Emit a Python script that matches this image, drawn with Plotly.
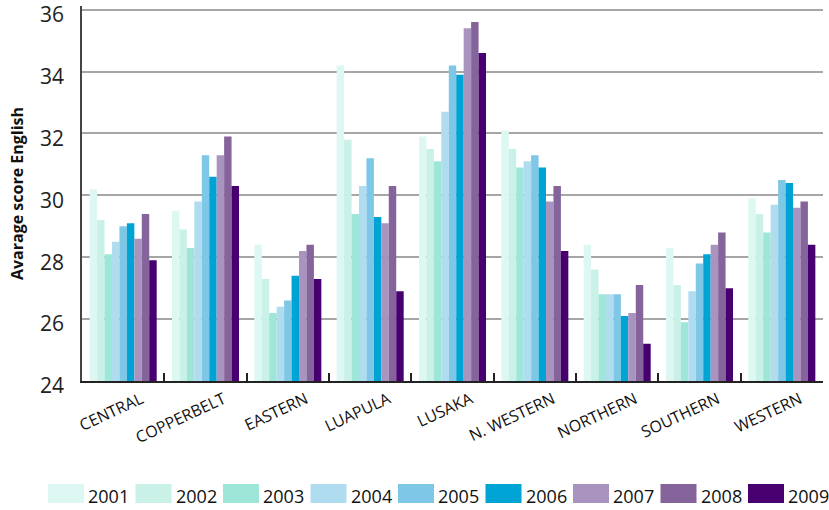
import plotly.graph_objects as go

# Regions (x categories)
regions = ["CENTRAL", "COPPERBELT", "EASTERN", "LUAPULA", "LUSAKA",
           "N. WESTERN", "NORTHERN", "SOUTHERN", "WESTERN"]

# Average English score per region, one list per year
y2001 = [30.2, 29.5, 28.4, 34.2, 31.9, 32.1, 28.4, 28.3, 29.9]
y2002 = [29.2, 28.9, 27.3, 31.8, 31.5, 31.5, 27.6, 27.1, 29.4]
y2003 = [28.1, 28.3, 26.2, 29.4, 31.1, 30.9, 26.8, 25.9, 28.8]
y2004 = [28.5, 29.8, 26.4, 30.3, 32.7, 31.1, 26.8, 26.9, 29.7]
y2005 = [29.0, 31.3, 26.6, 31.2, 34.2, 31.3, 26.8, 27.8, 30.5]
y2006 = [29.1, 30.6, 27.4, 29.3, 33.9, 30.9, 26.1, 28.1, 30.4]
y2007 = [28.6, 31.3, 28.2, 29.1, 35.4, 29.8, 26.2, 28.4, 29.6]
y2008 = [29.4, 31.9, 28.4, 30.3, 35.6, 30.3, 27.1, 28.8, 29.8]
y2009 = [27.9, 30.3, 27.3, 26.9, 34.6, 28.2, 25.2, 27.0, 28.4]

years = ["2001", "2002", "2003", "2004", "2005", "2006", "2007", "2008", "2009"]
series = [y2001, y2002, y2003, y2004, y2005, y2006, y2007, y2008, y2009]
colors = ["#ddf7f2", "#c9f1e8", "#9ee6d8", "#b0dcf0", "#7fc7e6",
          "#00a4d4", "#a994c0", "#85639b", "#480070"]

# y-axis ticks
y_ticks = [24, 26, 28, 30, 32, 34, 36]
y_top = 36.12

fig = go.Figure()
for name, vals, col in zip(years, series, colors):
    fig.add_trace(go.Bar(name=name, x=regions, y=vals, marker_color=col,
                         marker_line_width=0, showlegend=False))

# Geometry of the plotting area (pixels)
W, H = 829, 510
L, R, T, B = 82, 6, 6, 129
pw, ph = W - L - R, H - T - B

def px_x(p):
    return (p - L) / pw

def px_y(p):
    return (H - B - p) / ph

# Legend row: coloured swatches followed by year labels
shapes = []
annotations = []
for i, (name, col) in enumerate(zip(years, colors)):
    x0 = 48 + i * 87.5
    shapes.append(dict(type="rect", xref="paper", yref="paper",
                       x0=px_x(x0), x1=px_x(x0 + 36),
                       y0=px_y(503), y1=px_y(484),
                       fillcolor=col, line_width=0))
    annotations.append(dict(text=name, xref="paper", yref="paper",
                            x=px_x(x0 + 38), y=px_y(496),
                            xanchor="left", yanchor="middle", showarrow=False,
                            font=dict(family="Open Sans", size=18, color="#111")))

fig.update_layout(
    width=W, height=H,
    margin=dict(l=L, r=R, t=T, b=B, pad=0, autoexpand=False),
    paper_bgcolor="white", plot_bgcolor="white",
    barmode="group", bargap=0.186, bargroupgap=0,
    shapes=shapes, annotations=annotations,
    showlegend=False,
)

fig.update_yaxes(
    automargin=False,
    range=[24, y_top], tickvals=y_ticks, ticktext=[str(v) for v in y_ticks],
    showgrid=True, gridcolor="#a6a6a6", gridwidth=2,
    showline=True, linecolor="#444", linewidth=1.5,
    ticks="", ticklabelstandoff=12, ticklabelshift=5,
    ticklabeloverflow="allow",
    tickfont=dict(family="Open Sans", size=21, color="#222"),
    title=dict(text="<b>Avarage score English</b>", standoff=12,
               font=dict(family="Open Sans", size=16, color="#111")),
    zeroline=False,
)

fig.update_xaxes(
    automargin=False,
    tickangle=-25, tickson="boundaries",
    ticks="inside", ticklen=8, tickcolor="#222", tickwidth=1.5,
    showline=True, linecolor="#222", linewidth=2,
    ticklabelshift=18, ticklabelstandoff=1,
    tickfont=dict(family="Open Sans", size=16, color="#111"),
    showgrid=False,
)

fig.write_html("out.html")
